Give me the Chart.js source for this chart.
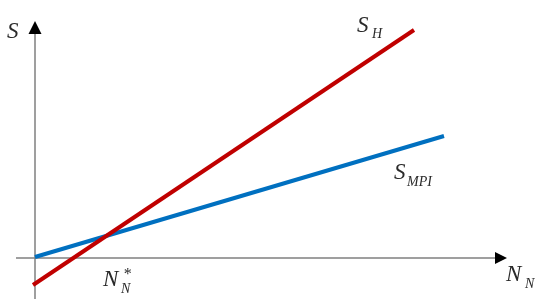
<!DOCTYPE html>
<html>
<head>
<meta charset="utf-8">
<script src="https://cdn.jsdelivr.net/npm/chart.js@4"></script>
<style>
  body { margin: 0; background: #fff; }
  #wrap { width: 550px; height: 304px; position: relative; }
</style>
</head>
<body>
<div id="wrap"><canvas id="myChart"></canvas></div>
<script>
// line end points (N_N, S) in arbitrary units
const hX = [-0.1, 18.95];
const hY = [-1.35, 11.4];
const mpiX = [0, 20.45];
const mpiY = [0.05, 6.1];

const toPoints = (xs, ys) => xs.map((x, i) => ({ x: x, y: ys[i] }));

// axes + arrows + labels
const axesPlugin = {
    id: 'axes',
    beforeDatasetsDraw(chart) {
        const ctx = chart.ctx;
        const xs = chart.scales.x, ys = chart.scales.y;
        const x0 = xs.getPixelForValue(0), y0 = ys.getPixelForValue(0);
        const xTip = xs.getPixelForValue(23.6), yTip = ys.getPixelForValue(11.85);
        ctx.save();
        ctx.strokeStyle = '#808080';
        ctx.lineWidth = 1.5;
        ctx.beginPath();
        ctx.moveTo(x0, ys.getPixelForValue(-2.05));
        ctx.lineTo(x0, yTip + 8);
        ctx.moveTo(xs.getPixelForValue(-0.95), y0);
        ctx.lineTo(xTip - 8, y0);
        ctx.stroke();
        ctx.fillStyle = '#000';
        ctx.beginPath();
        ctx.moveTo(x0, yTip);
        ctx.lineTo(x0 - 6.5, yTip + 13);
        ctx.lineTo(x0 + 6.5, yTip + 13);
        ctx.closePath();
        ctx.fill();
        ctx.beginPath();
        ctx.moveTo(xTip, y0);
        ctx.lineTo(xTip - 12, y0 - 6);
        ctx.lineTo(xTip - 12, y0 + 6);
        ctx.closePath();
        ctx.fill();
        ctx.restore();
    },
    afterDatasetsDraw(chart) {
        const ctx = chart.ctx;
        ctx.save();
        ctx.fillStyle = '#2a2a2a';
        ctx.textAlign = 'left';
        ctx.textBaseline = 'alphabetic';
        const big = 'italic 23px "Liberation Serif", "DejaVu Serif", serif';
        const small = 'italic 14px "Liberation Serif", "DejaVu Serif", serif';
        const t = (s, x, y, f) => { ctx.font = f; ctx.fillText(s, x, y); };
        t('S', 7, 38, big);
        t('S', 357, 32, big); t('H', 372, 38, small);
        t('S', 394, 179, big); t('MPI', 407, 186, small);
        t('N', 103, 286, big); t('*', 123, 279, 'italic 16px "Liberation Serif", serif'); t('N', 121, 293, small);
        t('N', 506, 281, big); t('N', 525, 288, small);
        ctx.restore();
    }
};

new Chart("myChart", {
    type: "scatter",
    data: {
        datasets: [{
            label: "S_H",
            data: toPoints(hX, hY),
            showLine: true,
            borderColor: "#C00000",
            borderWidth: 4,
            pointRadius: 0
        }, {
            label: "S_MPI",
            data: toPoints(mpiX, mpiY),
            showLine: true,
            borderColor: "#0070C0",
            borderWidth: 4,
            pointRadius: 0
        }]
    },
    options: {
        responsive: true,
        maintainAspectRatio: false,
        animation: false,
        layout: { padding: 0 },
        plugins: {
            legend: { display: false },
            tooltip: { enabled: false }
        },
        scales: {
            x: { type: 'linear', display: false, min: -1.75, max: 25.75 },
            y: { type: 'linear', display: false, min: -2.3, max: 12.9 }
        }
    },
    plugins: [axesPlugin]
});
</script>
</body>
</html>
